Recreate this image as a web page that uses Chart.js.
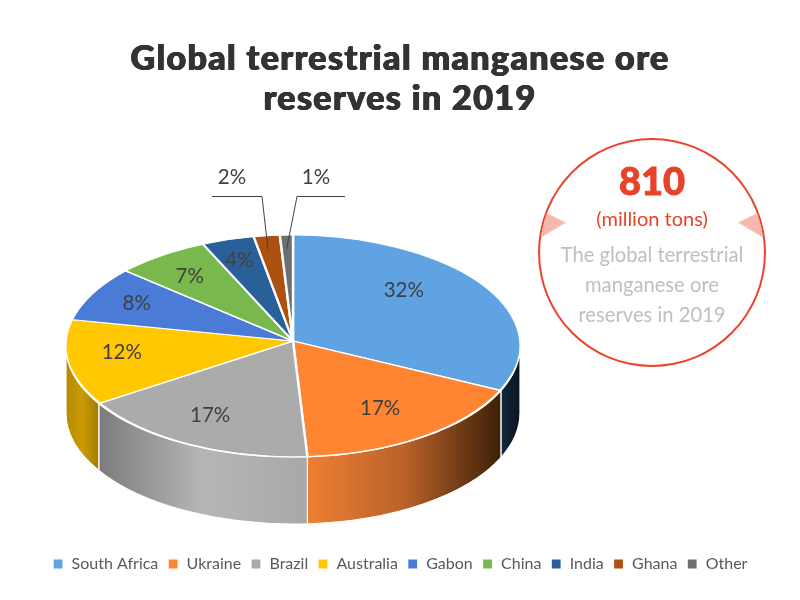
<!DOCTYPE html>
<html>
<head>
<meta charset="utf-8">
<title>Global terrestrial manganese ore reserves in 2019</title>
<script src="https://cdn.jsdelivr.net/npm/chart.js@4"></script>
<style>
    html, body { margin: 0; padding: 0; background: #fff; }
    #wrap { position: relative; width: 800px; height: 600px; overflow: hidden; font-family: Lato, sans-serif; }
    #main-chart { position: absolute; left: 0; top: 0; }
    /* callout on the right */
    .ring { position: absolute; left: 538px; top: 138px; width: 224px; height: 225px; border: 2px solid #e8452c; border-radius: 50%; overflow: hidden; }
    .tri { position: absolute; top: 70px; width: 26px; height: 28px; background: #f5b9ae; }
    .tri.l { left: 0; clip-path: polygon(0 0, 100% 45%, 0 100%); }
    .tri.r { right: 0; clip-path: polygon(100% 0, 0 45%, 100% 100%); }
    .txt { position: absolute; left: 538px; width: 228px; text-align: center; white-space: nowrap; }
</style>
</head>
<body>
<div id="wrap">
    <canvas id="main-chart" width="800" height="600"></canvas>
    <div class="ring"><div class="tri l"></div><div class="tri r"></div></div>
    <div class="txt" style="top:156px;font-size:38px;line-height:48px;font-weight:900;-webkit-text-stroke:0.9px #e8432a;color:#e8432a">810</div>
    <div class="txt" style="top:206px;font-size:20px;line-height:24px;color:#e8432a">(million tons)</div>
    <div class="txt" style="top:239px;font-size:20.2px;line-height:30px;color:#bfbfbf">The global terrestrial<br>manganese ore<br>reserves in 2019</div>
</div>
<script>
// data
const countries = ['South Africa', 'Ukraine', 'Brazil', 'Australia', 'Gabon', 'China', 'India', 'Ghana', 'Other'];
const shares = [32, 17, 17, 12, 8, 7, 4, 2, 1];
const sliceColors = ['#5fa3e3', '#ff8533', '#ababab', '#ffc800', '#4a7bd6', '#78b84c', '#2a6099', '#ad5112', '#6e6e6e'];

// side wall shading, left to right, only the slices facing the viewer
const sideShades = {
    0: ['#13283f', '#0a141f'],
    1: ['#ef7f32', '#b9622a', '#3d2008'],
    2: ['#7c7c7c', '#b6b6b6', '#a8a8a8'],
    3: ['#b98a00', '#c99c05', '#a47c00']
};

// small shifts of the inside labels, the original is in perspective
const labelNudge = [[-8, -19], [8, 5], [-19, 8], [-33, -7], [-29, -13], [-17, -15], [-10, -20]];

// Ghana and Other have a leader line instead
const leaders = {
    7: { elbow: [262, 196.5], end: [212, 196.5], text: [232, 177] },
    8: { elbow: [297, 196.5], end: [345, 196.5], text: [316, 177] }
};

/**
 * Where a slice edge leaving the off-centre apex hits the rim ellipse
 */
function rimAngle(angle, o) {
    const dx = (o.rx + 2) * Math.cos(angle) / o.rx;
    const dy = o.faceRy * Math.sin(angle) / o.ry;
    const off = (o.apexY - o.cy) / o.ry;
    const b = dy * off;
    const t = (-b + Math.sqrt(b * b + (dx * dx + dy * dy) * (1 - off * off))) / (dx * dx + dy * dy);
    const rim = Math.atan2(off + t * dy, t * dx);
    return rim < -Math.PI / 2 - 0.01 ? rim + 2 * Math.PI : rim;
}

/**
 * Lato Black is not installed, so the title is spaced out and drawn a few times to get the weight
 */
const heavyTitle = {
    id: 'heavyTitle',
    beforeDraw(chart) {
        const block = chart.titleBlock;
        if (block.heavy) return;
        block.heavy = true;
        const drawOnce = block.draw.bind(block);
        block.draw = () => {
            const ctx = chart.ctx;
            [[-0.5, -0.25], [0.5, -0.25], [-0.5, 0.25], [0.5, 0.25]].forEach(([dx, dy]) => {
                ctx.save();
                ctx.letterSpacing = '1.4px';
                ctx.translate(dx, dy);
                drawOnce();
                ctx.restore();
            });
        };
    }
};

/**
 * Squash the pie to an ellipse and give it a wall, a plain pie is all Chart.js has
 */
const pie3d = {
    id: 'pie3d',
    beforeDatasetsDraw(chart, args, opts) {
        const ctx = chart.ctx;
        const arcs = chart.getDatasetMeta(0).data;
        arcs.forEach((arc, i) => {
            if (!sideShades[i]) return;
            const a0 = Math.max(rimAngle(arc.startAngle, opts), 0);
            const a1 = Math.min(rimAngle(arc.endAngle, opts), Math.PI);
            if (a1 <= a0) return;
            const xs = [Math.cos(a0), Math.cos(a1)];
            const left = opts.cx + opts.rx * Math.min(...xs);
            const right = opts.cx + opts.rx * Math.max(...xs);
            const grad = ctx.createLinearGradient(left, 0, right, 0);
            sideShades[i].forEach((c, k, all) => grad.addColorStop(k / (all.length - 1), c));
            ctx.beginPath();
            ctx.ellipse(opts.cx, opts.cy, opts.rx, opts.ry, 0, a0, a1);
            ctx.ellipse(opts.cx, opts.cy + opts.depth, opts.rx, opts.ry, 0, a1, a0, true);
            ctx.closePath();
            ctx.fillStyle = grad;
            ctx.fill();
            ctx.strokeStyle = '#fff';
            ctx.lineWidth = 1.2;
            ctx.stroke();
        });
        const first = arcs[0];
        ctx.save();
        ctx.beginPath();
        ctx.ellipse(opts.cx, opts.cy, opts.rx, opts.ry, 0, 0, Math.PI * 2);
        ctx.clip();
        ctx.translate(opts.cx, opts.apexY);
        ctx.scale((opts.rx + 2) / first.outerRadius, opts.faceRy / first.outerRadius);
        ctx.translate(-first.x, -first.y);
    },
    afterDatasetsDraw(chart, args, opts) {
        const ctx = chart.ctx;
        ctx.restore();
        ctx.beginPath();
        ctx.ellipse(opts.cx, opts.cy, opts.rx, opts.ry, 0, 0, Math.PI * 2);
        ctx.strokeStyle = '#fff';
        ctx.lineWidth = 1.2;
        ctx.stroke();
        ctx.font = '20.5px Lato';
        ctx.fillStyle = '#404040';
        ctx.textAlign = 'center';
        ctx.textBaseline = 'middle';
        chart.getDatasetMeta(0).data.forEach((arc, i) => {
            const mid = (arc.startAngle + arc.endAngle) / 2;
            const label = shares[i] + '%';
            const leader = leaders[i];
            if (leader) {
                ctx.beginPath();
                ctx.moveTo(opts.cx + opts.rx * 0.88 * Math.cos(mid), opts.cy + opts.ry * 0.88 * Math.sin(mid));
                ctx.lineTo(leader.elbow[0], leader.elbow[1]);
                ctx.lineTo(leader.end[0], leader.end[1]);
                ctx.strokeStyle = '#404040';
                ctx.lineWidth = 1;
                ctx.stroke();
                ctx.fillText(label, leader.text[0], leader.text[1]);
            } else {
                const x = opts.cx + opts.rx * 0.62 * Math.cos(mid) + labelNudge[i][0];
                const y = opts.cy + opts.ry * 0.62 * Math.sin(mid) + labelNudge[i][1];
                ctx.fillText(label, x, y);
            }
        });
    }
};

new Chart(document.getElementById('main-chart'), {
    type: 'pie',
    data: {
        labels: countries,
        datasets: [{
            data: shares,
            backgroundColor: sliceColors,
            borderColor: '#fff',
            borderWidth: 2.2,
            clip: false
        }]
    },
    plugins: [heavyTitle, pie3d],
    options: {
        responsive: false,
        animation: false,
        layout: { padding: { top: 36, bottom: 18 } },
        plugins: {
            tooltip: { enabled: false },
            title: {
                display: true,
                text: ['Global terrestrial manganese ore', 'reserves in 2019'],
                color: '#333333',
                font: { family: 'Lato', size: 34, weight: '900', lineHeight: 1.18 },
                padding: { top: 3, bottom: 10 }
            },
            legend: {
                position: 'bottom',
                labels: {
                    color: '#595959',
                    font: { family: 'Lato', size: 16 },
                    boxWidth: 11,
                    boxHeight: 11,
                    padding: 9.3
                }
            },
            pie3d: { cx: 293, cy: 346, rx: 227, ry: 111, depth: 67, apexY: 341, faceRy: 116 }
        }
    }
});
</script>
</body>
</html>
